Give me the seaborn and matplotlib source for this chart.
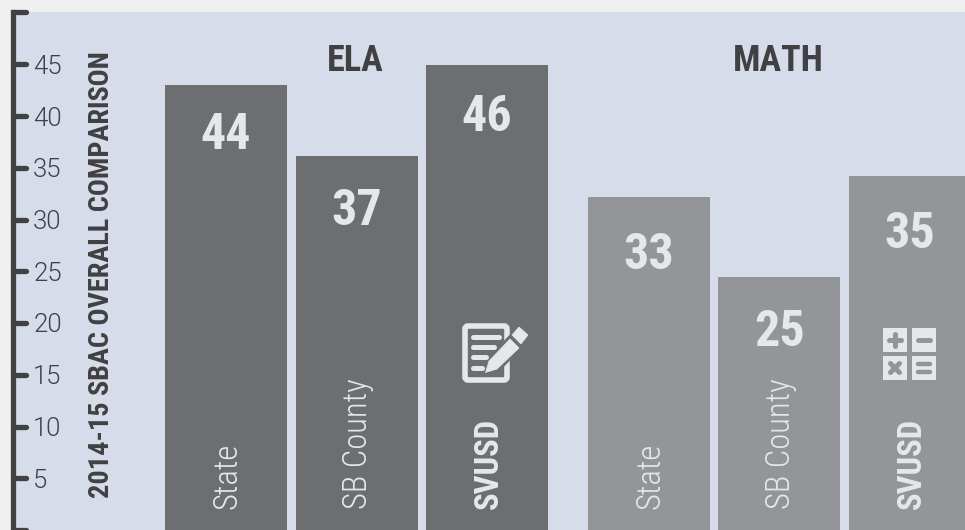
import matplotlib
matplotlib.use("Agg")
import matplotlib.pyplot as plt
from matplotlib.patches import FancyBboxPatch, Polygon, Rectangle
from matplotlib.transforms import Affine2D
import pandas as pd
import seaborn as sns

# ---- data ----
subjects = ["ELA", "ELA", "ELA", "MATH", "MATH", "MATH"]
slots = [0, 1, 2, 3, 4, 5]
districts = ["State", "SB County", "SVUSD", "State", "SB County", "SVUSD"]
heights = [43.0, 36.1, 44.9, 32.2, 24.4, 34.2]
scores = ["44", "37", "46", "33", "25", "35"]
ticks = [5, 10, 15, 20, 25, 30, 35, 40, 45]
ylabel = "2014-15 SBAC OVERALL COMPARISON"
palette = {"ELA": "#6d6e70", "MATH": "#939598"}

W, H = 965, 530
BG, PANEL, DARK, LIGHT = "#f0f0f0", "#d6dcea", "#414042", "#e6e7e8"
COND = "Roboto Condensed"

sns.set_theme(style="white")
plt.rcParams["font.family"] = [COND, "DejaVu Sans"]

fig = plt.figure(figsize=(W / 100, H / 100), dpi=100, facecolor=BG)
L, T = 13, 12
ax = fig.add_axes([L / W, 0, (W - L) / W, (H - T) / H], facecolor=PANEL)

gap = 0.241
df = pd.DataFrame({
    "pos": [s + (gap if g == "MATH" else 0) for s, g in zip(slots, subjects)],
    "height": heights, "subject": subjects,
})
sns.barplot(data=df, x="pos", y="height", hue="subject", palette=palette,
            native_scale=True, dodge=False, width=122 / 130.5, saturation=1,
            legend=False, linewidth=0, edgecolor="none", ax=ax)

ax.set_xlim((L - 226) / 130.5, (W - 226) / 130.5)
top = (H - T) / 10.35
ax.set_ylim(0, top)
ax.set_xlabel("")
ax.set_ylabel("")
ax.set_xticks([])
for s in ("top", "right", "bottom"):
    ax.spines[s].set_visible(False)
ax.spines["left"].set_color(DARK)
ax.spines["left"].set_linewidth(3.8)
ax.spines["left"].set_capstyle("projecting")
ax.spines["left"].set_zorder(6)

ax.set_yticks(ticks)
ax.set_yticklabels([str(t) for t in ticks])
ax.tick_params(axis="y", length=0, pad=-14.5, labelcolor=DARK, left=False)
for lab in ax.get_yticklabels():
    lab.set_fontfamily("Roboto")
    lab.set_fontweight(300)
    lab.set_fontsize(18.5)
    lab.set_horizontalalignment("left")

# rounded tick marks reaching a little past the axes
ytrans = ax.get_yaxis_transform()
for t in [0] + ticks + [top]:
    ax.plot([0, 13 / (W - L)], [t, t], transform=ytrans, color=DARK, lw=3.8,
            solid_capstyle="round", clip_on=False, zorder=6)

# pixel transform, origin top-left of the figure
px = Affine2D().scale(1 / W, -1 / H).translate(0, 1) + fig.transFigure

fig.text(101.5, 274.5, ylabel, transform=px, rotation=90, ha="center", va="center",
         fontsize=20.3, fontweight="bold", color=DARK, family=COND)
for name, x in zip(["ELA", "MATH"], [355, 778]):
    fig.text(x, 57, name, transform=px, ha="center", va="center_baseline",
             fontsize=26, fontweight="bold", color=DARK, family=COND)

score_y = [130.5, 206.5, 112.5, 250.5, 327.5, 229.5]
for b, s, y, d in zip(df["pos"], scores, score_y, districts):
    xpx = 226 + b * 130.5
    fig.text(xpx, y, s, transform=px, ha="center", va="center_baseline", fontsize=36,
             fontweight="bold", color=LIGHT, family=COND)
    bold = d == "SVUSD"
    fig.text(xpx + 1.5, 509, d, transform=px, rotation=90, ha="center", va="bottom",
             fontsize=23.5, fontweight="bold" if bold else 300,
             color=LIGHT, family=COND)

# notepad icon
def stroke(xs, ys, color, lw):
    fig.add_artist(plt.Line2D(xs, ys, color=color, lw=lw, solid_capstyle="round", transform=px))

fig.add_artist(FancyBboxPatch((465, 326), 42, 54, boxstyle="round,pad=0,rounding_size=3",
                              fc="none", ec=LIGHT, lw=4, transform=px))
for y, x2 in zip([337, 347, 357, 368], [499, 494, 486, 482]):
    stroke([473, x2], [y, y], LIGHT, 3.6)
fig.add_artist(Polygon([(486, 373), (490, 360), (515, 333), (524, 342), (498, 369)],
                       fc=palette["ELA"], ec=palette["ELA"], lw=4, transform=px))
fig.add_artist(Polygon([(485.5, 372.5), (489, 361), (510, 339), (519, 348), (497, 369)],
                       fc=LIGHT, ec=LIGHT, lw=0.5, transform=px))
fig.add_artist(Polygon([(512, 335), (519, 327), (528, 335), (521, 344)], fc=LIGHT, ec=LIGHT, lw=0.5, transform=px))

# calculator icon
M = palette["MATH"]
cells = [(883, 327.5), (912, 327.5), (883, 356), (912, 356)]
for (x0, y0) in cells:
    fig.add_artist(Rectangle((x0, y0), 24, 24, fc=LIGHT, ec="none", transform=px))
(cx, cy) = (cells[0][0] + 12, cells[0][1] + 12)
stroke([cx - 6, cx + 6], [cy, cy], M, 3.6)
stroke([cx, cx], [cy - 6, cy + 6], M, 3.6)
(cx, cy) = (cells[1][0] + 12, cells[1][1] + 12)
stroke([cx - 6, cx + 6], [cy, cy], M, 3.6)
(cx, cy) = (cells[2][0] + 12, cells[2][1] + 12)
stroke([cx - 4.5, cx + 4.5], [cy - 4.5, cy + 4.5], M, 3.6)
stroke([cx - 4.5, cx + 4.5], [cy + 4.5, cy - 4.5], M, 3.6)
(cx, cy) = (cells[3][0] + 12, cells[3][1] + 12)
stroke([cx - 6, cx + 6], [cy - 4, cy - 4], M, 3.2)
stroke([cx - 6, cx + 6], [cy + 4, cy + 4], M, 3.2)

fig.savefig("out.png", dpi=100, facecolor=BG)
